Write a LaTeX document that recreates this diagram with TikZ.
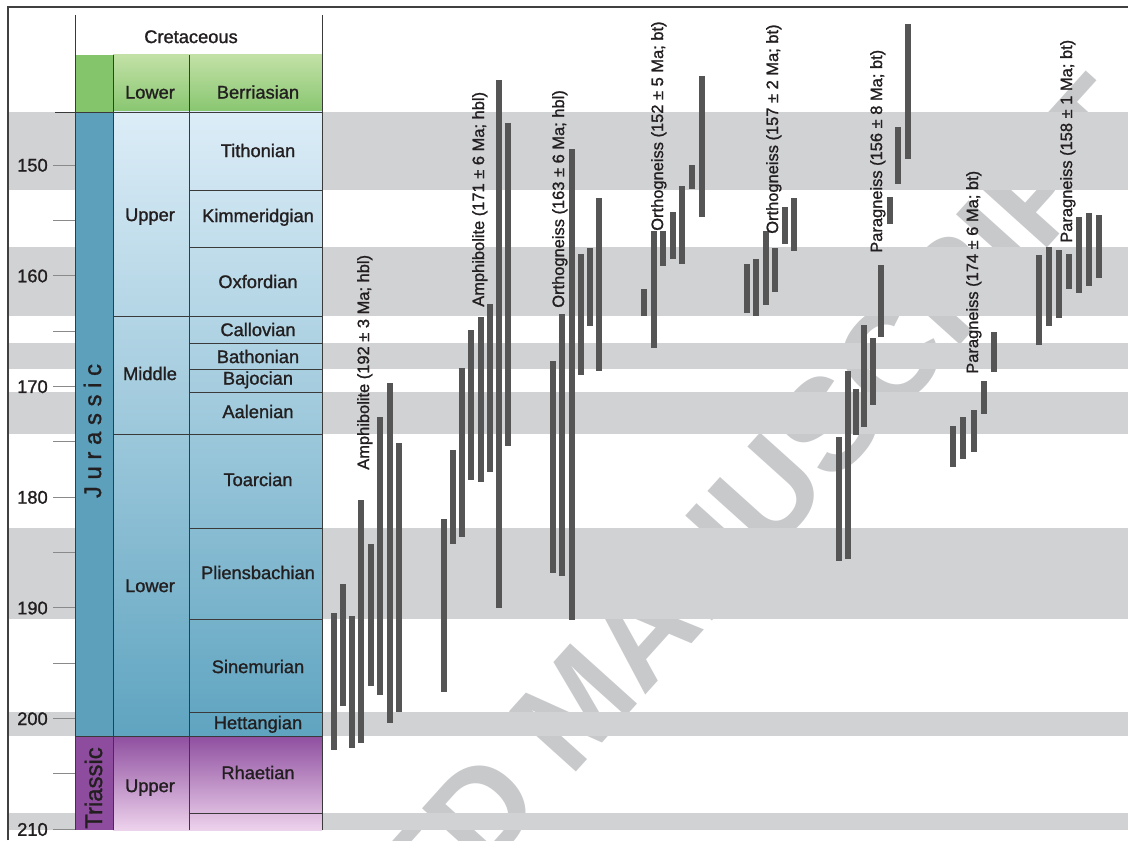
\documentclass[tikz,border=0pt]{standalone}
\usepackage{fontspec}
\setmainfont{Liberation Sans}[FakeBold=1.2]
\newfontfamily\stampfont{Liberation Sans Bold}
\usetikzlibrary{positioning, calc}
\definecolor{bandGray}{HTML}{D1D2D4}
\definecolor{stampGray}{HTML}{C8C9CB}
\definecolor{barGray}{HTML}{555555}
\definecolor{lineGray}{HTML}{3A3A3A}
\definecolor{tickGray}{HTML}{8A8A8A}
\definecolor{frameGray}{HTML}{404040}
\definecolor{textDark}{HTML}{231F20}
\definecolor{jurBlue}{HTML}{5CA0BC}
\definecolor{jurTop}{HTML}{DCEDF7}
\definecolor{jurBottom}{HTML}{5FA4C0}
\definecolor{creGreen}{HTML}{84C46A}
\definecolor{creTop}{HTML}{C2E1A6}
\definecolor{creBottom}{HTML}{88C670}
\definecolor{triPurple}{HTML}{8D4C9D}
\definecolor{triTop}{HTML}{8F4FA0}
\definecolor{triBottom}{HTML}{EDD2EC}

\begin{document}
\begin{tikzpicture}[
    x=0.025cm, y=-0.025cm,
    font=\fontsize{13}{15}\selectfont,
    % Franjas grises de los pisos
    band/.style={fill=bandGray},
    % Marco exterior
    frame/.style={draw=frameGray, line width=1.1pt},
    % Lineas de la tabla cronoestratigrafica
    cellline/.style={draw=lineGray, line width=0.6pt},
    % Marcas de la escala de edades
    tickmark/.style={draw=tickGray, line width=0.6pt},
    % Textos de la tabla
    stagetext/.style={
        text=textDark,
        inner sep=0pt,
        text height=0.72em,
        text depth=0pt
    },
    periodtext/.style={stagetext, rotate=90, font=\fontsize{17}{17}\selectfont},
    agelabel/.style={stagetext, anchor=east},
    % Barras de edades
    agebar/.style={draw=barGray, line width=0.1375cm},
    % Etiquetas de las muestras
    sample/.style={
        rotate=90,
        anchor=west,
        inner sep=0pt,
        text=textDark,
        font=\fontsize{11.7}{13}\selectfont,
        text height=0.72em,
        text depth=0pt
    },
    % Marca de agua
    stamp/.style={
        text=stampGray,
        font=\stampfont\fontsize{93}{93}\selectfont,
        rotate=48,
        inner sep=0pt
    }
]

    \fill[white] (0,0) rectangle (1128,840);
    \useasboundingbox (0,0) rectangle (1128,840);

    % --- 0. Marca de agua (debajo de todo) ---
    \begin{scope}
        \clip (0,0) rectangle (1128,840);
        \node[stamp] (stamp) at (576,705) {ACCEPTED MANUSCRIPT};
    \end{scope}

    % --- 1. Franjas grises y marco ---
    \foreach \ya/\yb in {112/190, 247/316, 343/369, 392/434, 528/619, 712/736, 813/830}
        \fill[band] (8,\ya) rectangle (1128,\yb);

    \draw[frame] (8,840) -- (8,7) -- (1128,7);

    % --- 2. Tabla cronoestratigrafica ---

    % Cretacico
    \fill[creGreen] (75,55) rectangle (113,112);
    \shade[top color=creTop, bottom color=creBottom] (113,55) rectangle (322,112);

    % Jurasico
    \fill[jurBlue] (75,112) rectangle (113,736);
    \shade[top color=jurTop, bottom color=jurBottom] (113,112) rectangle (322,736);

    % Triasico
    \fill[triPurple] (75,736) rectangle (113,830);
    \shade[top color=triTop, bottom color=triBottom] (113,736) rectangle (322,830);

    % Lineas verticales
    \draw[cellline] (75,15) -- (75,830);
    \draw[cellline] (322,15) -- (322,830);
    \draw[cellline] (113,55) -- (113,830);
    \draw[cellline] (189,55) -- (189,830);

    % Limites de periodo, serie y piso
    \draw[cellline] (55,112) -- (322,112);
    \draw[cellline] (75,736) -- (322,736);
    \foreach \y in {316, 434}
        \draw[cellline] (113,\y) -- (322,\y);
    \foreach \y in {190, 247, 343, 369, 392, 528, 619, 712, 813}
        \draw[cellline] (189,\y) -- (322,\y);

    % Textos
    \node[stagetext] (cretaceous) at (191,38) {Cretaceous};
    \node[stagetext] (lowerK) at (150,93.5) {Lower};
    \node[stagetext] (berriasian) at (258,93.5) {Berriasian};

    \node[periodtext] (jurassic) at (96,431) {J u r a s s i c};
    \node[stagetext] (upperJ) at (150,216) {Upper};
    \node[stagetext] (middleJ) at (150,375) {Middle};
    \node[stagetext] (lowerJ) at (150,587) {Lower};

    \node[stagetext] (tithonian) at (258,152) {Tithonian};
    \node[stagetext] (kimmeridgian) at (258,217) {Kimmeridgian};
    \node[stagetext] (oxfordian) at (258,283) {Oxfordian};
    \node[stagetext] (callovian) at (258,331) {Callovian};
    \node[stagetext] (bathonian) at (258,358) {Bathonian};
    \node[stagetext] (bajocian) at (258,379.5) {Bajocian};
    \node[stagetext] (aalenian) at (258,413) {Aalenian};
    \node[stagetext] (toarcian) at (258,481) {Toarcian};
    \node[stagetext] (pliensbachian) at (258,574) {Pliensbachian};
    \node[stagetext] (sinemurian) at (258,668) {Sinemurian};
    \node[stagetext] (hettangian) at (258,724) {Hettangian};

    \node[periodtext] (triassic) at (97,788) {Triassic};
    \node[stagetext] (upperT) at (150,787) {Upper};
    \node[stagetext] (rhaetian) at (258,774) {Rhaetian};

    % --- 3. Escala de edades (Ma) ---
    \foreach \a in {150,155,...,210}
        \draw[tickmark] (53,{165+(\a-150)*11.07}) -- (75,{165+(\a-150)*11.07});
    \foreach \a in {150,160,...,210}
        \node[agelabel] (age\a) at (48,{166.5+(\a-150)*11.07}) {\a};

    % --- 4. Barras de edades por muestra ---

    % Amphibolite (192)
    \foreach \x/\ya/\yb in {334/613/750, 343/584/706, 352/616/748, 361/500/743,
                            371/544/686, 380/417/695, 390/383/723, 399/443/712}
        \draw[agebar] (\x,\ya) -- (\x,\yb);

    % Amphibolite (171)
    \foreach \x/\ya/\yb in {444/519/692, 453/450/544, 462/368/537, 471/330/480,
                            481/317/482, 490/304/472, 499/80/608, 508/123/446}
        \draw[agebar] (\x,\ya) -- (\x,\yb);

    % Orthogneiss (163)
    \foreach \x/\ya/\yb in {553/361/573, 562/314/576, 572/149/620, 581/254/375,
                            590/248/326, 599/198/371}
        \draw[agebar] (\x,\ya) -- (\x,\yb);

    % Orthogneiss (152)
    \foreach \x/\ya/\yb in {644/289/316, 654/231/348, 663/231/266, 673/212/259,
                            682/186/264, 692/165/189, 702/76/217}
        \draw[agebar] (\x,\ya) -- (\x,\yb);

    % Orthogneiss (157)
    \foreach \x/\ya/\yb in {747/264/313, 756/259/316, 766/231/305, 775/248/292,
                            785/207/244, 794/198/251}
        \draw[agebar] (\x,\ya) -- (\x,\yb);

    % Paragneiss (156)
    \foreach \x/\ya/\yb in {839/437/561, 848/371/559, 856/389/435, 864/325/427,
                            873/338/405, 881/265/337, 890/197/224, 898/127/184,
                            908/24/159}
        \draw[agebar] (\x,\ya) -- (\x,\yb);

    % Paragneiss (174)
    \foreach \x/\ya/\yb in {953/426/467, 963/417/459, 974/410/452, 984/381/414,
                            994/332/372}
        \draw[agebar] (\x,\ya) -- (\x,\yb);

    % Paragneiss (158)
    \foreach \x/\ya/\yb in {1039/255/345, 1049/247/326, 1059/250/318, 1069/254/289,
                            1079/217/293, 1089/213/286, 1099/215/278}
        \draw[agebar] (\x,\ya) -- (\x,\yb);

    % --- 5. Etiquetas de las muestras ---
    \node[sample] (amph192) at (364,470) {Amphibolite (192 ± 3 Ma; hbl)};
    \node[sample] (amph171) at (479,307) {Amphibolite (171 ± 6 Ma; hbl)};
    \node[sample] (orth163) at (559,308) {Orthogneiss (163 ± 6 Ma; hbl)};
    \node[sample] (orth152) at (658,231) {Orthogneiss (152 ± 5 Ma; bt)};
    \node[sample] (orth157) at (773,234) {Orthogneiss (157 ± 2 Ma; bt)};
    \node[sample] (para156) at (877,253) {Paragneiss (156 ± 8 Ma; bt)};
    \node[sample] (para174) at (973,374) {Paragneiss (174 ± 6 Ma; bt)};
    \node[sample] (para158) at (1067,243) {Paragneiss (158 ± 1 Ma; bt)};

\end{tikzpicture}
\end{document}
